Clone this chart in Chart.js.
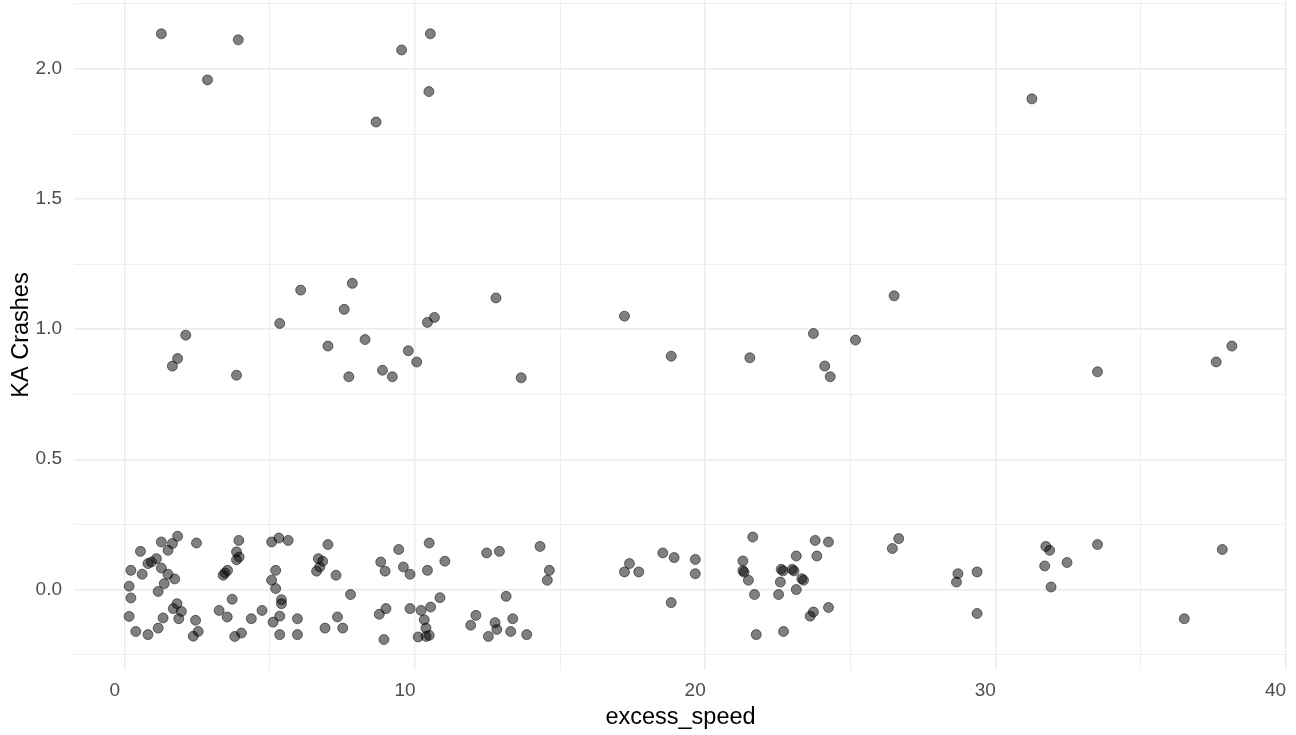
<!DOCTYPE html>
<html>
<head>
<meta charset="utf-8">
<script src="https://cdn.jsdelivr.net/npm/chart.js@4"></script>
<style>
  body { margin: 0; background: #fff; }
</style>
</head>
<body>
<canvas id="chart" width="1296" height="735"></canvas>
<script>
// excess speed (x) and jittered KA crash counts (y)
const excessSpeed = [
  1.82, 1.26, 1.64, 2.47, 1.49, 0.54, 1.09, 0.92, 0.80, 1.26, 0.21, 0.60, 1.49, 1.72, 1.36, 0.15, 1.15, 0.21, 1.80, 1.67,
  1.95, 1.86, 0.15, 1.32, 2.44, 0.38, 0.80, 1.15, 2.53, 2.36,
  3.93, 3.85, 3.94, 3.85, 3.54, 3.45, 3.39, 3.70, 3.25, 3.53, 4.36, 4.73, 4.02, 3.79,
  5.06, 5.31, 5.63, 5.20, 5.06, 5.20, 5.40, 5.40, 5.34, 5.11, 5.95, 5.34, 5.95,
  7.00, 6.67, 6.82, 6.72, 6.61, 7.28, 7.78, 7.33, 6.90, 7.51,
  9.44, 8.82, 8.97, 9.60, 9.83, 9.00, 8.77, 9.83, 8.93,
  10.49, 11.03, 10.43, 10.21, 10.54, 10.86, 10.32, 10.38, 10.11, 10.38, 10.49,
  12.47, 12.91, 13.14, 12.10, 11.92, 12.76, 12.82, 13.37, 12.53, 13.30, 13.85,
  14.31, 14.63, 14.56,
  17.39, 17.22, 17.71, 18.54, 18.93, 18.83, 19.66, 19.66,
  21.64, 21.30, 21.30, 21.34, 21.49, 21.70, 21.76, 22.70, 22.53, 22.59, 22.62, 22.68, 23.00, 23.06, 23.14, 23.79,
  24.25, 23.85, 23.33, 23.39, 23.14, 23.73, 23.62, 24.25,
  26.67, 26.45, 28.71, 28.66, 29.37, 29.37,
  31.74, 31.87, 31.70, 32.47, 31.92, 33.52, 37.82, 36.51,
  // one crash
  2.10, 1.82, 1.64, 3.85, 5.34, 6.06, 7.84, 7.56, 7.00, 8.28, 7.72, 8.88, 9.22, 9.77, 10.06, 10.43, 10.67, 12.79, 13.66,
  17.22, 18.83, 21.54, 23.73, 25.18, 24.12, 24.31, 26.51, 33.52, 37.61, 38.15,
  // two crashes
  1.26, 3.91, 2.85, 9.54, 10.53, 10.48, 8.66, 31.26
];

const kaCrashes = [
  0.204, 0.182, 0.176, 0.178, 0.150, 0.146, 0.118, 0.105, 0.099, 0.082, 0.073, 0.058, 0.058, 0.040, 0.022, 0.012, -0.008, -0.033, -0.055, -0.074,
  -0.085, -0.113, -0.104, -0.110, -0.119, -0.162, -0.174, -0.149, -0.162, -0.180,
  0.188, 0.144, 0.124, 0.114, 0.073, 0.063, 0.054, -0.038, -0.081, -0.106, -0.113, -0.081, -0.168, -0.181,
  0.182, 0.197, 0.188, 0.073, 0.035, 0.003, -0.040, -0.055, -0.103, -0.126, -0.113, -0.174, -0.174,
  0.172, 0.118, 0.108, 0.086, 0.070, 0.054, -0.020, -0.106, -0.149, -0.149,
  0.153, 0.105, 0.070, 0.086, 0.058, -0.074, -0.096, -0.074, -0.193,
  0.178, 0.108, 0.073, -0.081, -0.068, -0.032, -0.117, -0.149, -0.183, -0.181, -0.177,
  0.140, 0.146, -0.027, -0.100, -0.138, -0.128, -0.154, -0.113, -0.181, -0.162, -0.174,
  0.165, 0.073, 0.035,
  0.099, 0.067, 0.067, 0.140, 0.122, -0.051, 0.115, 0.060,
  0.201, 0.109, 0.072, 0.066, 0.035, -0.020, -0.174, -0.162, -0.020, 0.028, 0.077, 0.071, 0.077, 0.071, 0.128, 0.188,
  0.182, 0.128, 0.041, 0.035, -0.001, -0.087, -0.103, -0.070,
  0.195, 0.157, 0.060, 0.028, 0.067, -0.093,
  0.165, 0.150, 0.090, 0.103, 0.009, 0.172, 0.153, -0.113,
  // one crash
  0.977, 0.887, 0.858, 0.823, 1.022, 1.150, 1.176, 1.076, 0.935, 0.960, 0.817, 0.842, 0.817, 0.917, 0.874, 1.026, 1.045, 1.120, 0.813,
  1.050, 0.896, 0.890, 0.983, 0.958, 0.858, 0.817, 1.128, 0.836, 0.874, 0.935,
  // two crashes
  2.135, 2.112, 1.958, 2.073, 2.135, 1.913, 1.796, 1.885
];

const points = excessSpeed.map((x, i) => ({ x: x, y: kaCrashes[i] }));

const gridColor = "#ebebeb";
const tickFont = { family: "'Liberation Sans', Arial, sans-serif", size: 19 };
const titleFont = { family: "'Liberation Sans', Arial, sans-serif", size: 23.5 };

// major grid lines every 10 / 0.5, minor ones in between are thinner
function isMajor(value, step) {
  const d = value / step;
  return Math.abs(d - Math.round(d)) < 1e-6;
}

new Chart(document.getElementById("chart"), {
  type: "scatter",
  data: {
    datasets: [{
      data: points,
      backgroundColor: "rgba(0,0,0,0.5)",
      borderColor: "rgba(0,0,0,0.5)",
      borderWidth: 1,
      pointRadius: 5,
      pointHoverRadius: 5
    }]
  },
  options: {
    responsive: false,
    animation: false,
    layout: {
      autoPadding: false,
      padding: { top: 0, right: 9, bottom: 0, left: 0 }
    },
    plugins: {
      legend: { display: false },
      tooltip: { enabled: false }
    },
    scales: {
      x: {
        type: "linear",
        min: -1.75,
        max: 40.05,
        border: { display: false },
        grid: {
          color: gridColor,
          drawTicks: false,
          lineWidth: ctx => (ctx.tick && isMajor(ctx.tick.value, 10)) ? 1.4 : 0.8
        },
        ticks: {
          stepSize: 5,
          includeBounds: false,
          autoSkip: false,
          maxRotation: 0,
          padding: 9,
          labelOffset: -10,
          color: "#4d4d4d",
          font: tickFont,
          callback: v => (isMajor(v, 10) ? v : "")
        },
        title: {
          display: true,
          text: "excess_speed",
          color: "#000",
          font: titleFont,
          padding: { top: 0, bottom: 3 }
        },
        afterFit: scale => {
          scale.height = 65;
          scale.paddingLeft = 0;
          scale.paddingRight = 0;
        }
      },
      y: {
        type: "linear",
        min: -0.31,
        max: 2.265,
        border: { display: false },
        grid: {
          color: gridColor,
          drawTicks: false,
          lineWidth: ctx => (ctx.tick && isMajor(ctx.tick.value, 0.5)) ? 1.4 : 0.8
        },
        ticks: {
          stepSize: 0.25,
          includeBounds: false,
          autoSkip: false,
          padding: 12,
          color: "#4d4d4d",
          font: tickFont,
          callback: v => (isMajor(v, 0.5) ? v.toFixed(1) : "")
        },
        title: {
          display: true,
          text: "KA Crashes",
          color: "#000",
          font: titleFont,
          padding: { top: 7, bottom: 0 }
        },
        afterFit: scale => {
          scale.width = 74;
          scale.paddingTop = 0;
          scale.paddingBottom = 0;
        }
      }
    }
  }
});
</script>
</body>
</html>
